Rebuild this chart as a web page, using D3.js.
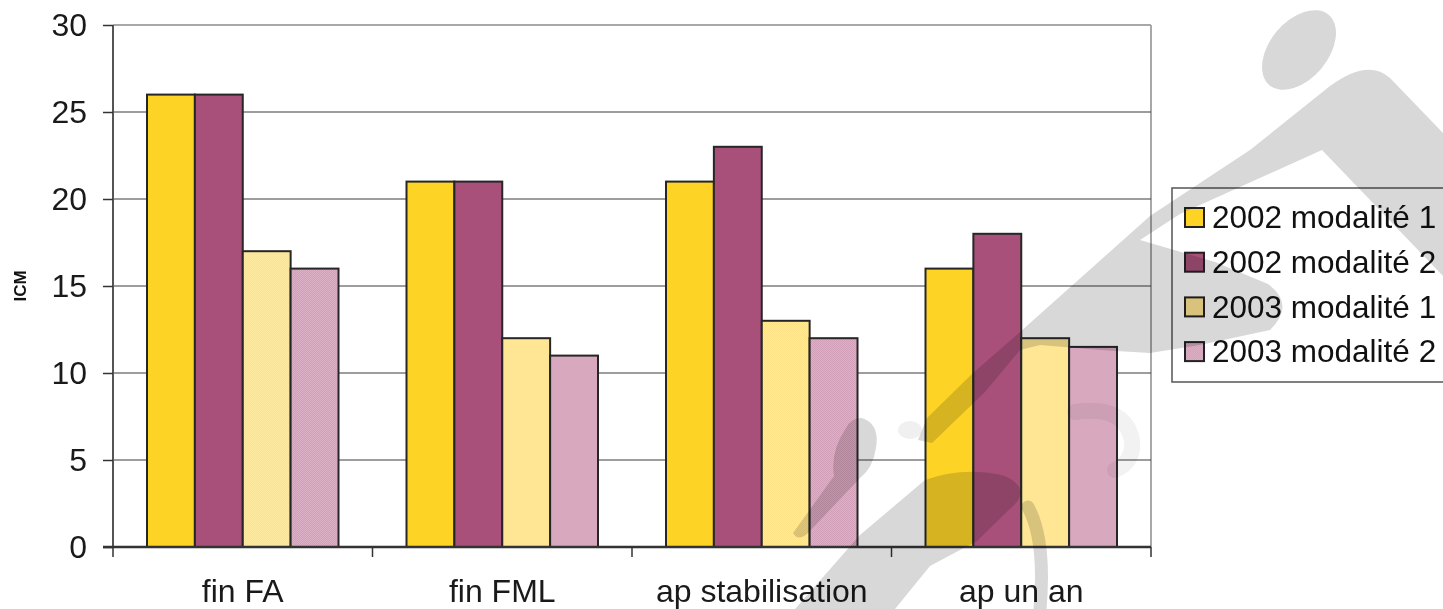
<!DOCTYPE html>
<html>
<head>
<meta charset="utf-8">
<script src="https://cdn.jsdelivr.net/npm/d3@7"></script>
<style>
  html, body { margin: 0; padding: 0; background: #fff; }
  svg { display: block; }
  text { font-family: "Liberation Sans", Arial, sans-serif; }
</style>
</head>
<body>
<svg id="chart" width="1443" height="609"></svg>
<script>
// ---- data ----
const categories = ["fin FA", "fin FML", "ap stabilisation", "ap un an"];
const seriesNames = ["2002 modalité 1", "2002 modalité 2", "2003 modalité 1", "2003 modalité 2"];
const s2002m1 = [26, 21, 21, 16];
const s2002m2 = [26, 21, 23, 18];
const s2003m1 = [17, 12, 13, 12];
const s2003m2 = [16, 11, 12, 11.5];
const yTicks = [0, 5, 10, 15, 20, 25, 30];
const yTitle = "ICM";

const seriesValues = [s2002m1, s2002m2, s2003m1, s2003m2];

// ---- layout ----
const W = 1443, H = 609;
const plot = { left: 113, right: 1151, top: 25, bottom: 547 };

const svg = d3.select("#chart");
svg.append("rect").attr("width", W).attr("height", H).attr("fill", "#fff");

const defs = svg.append("defs");
function dither(id, c1, c2) {
  const p = defs.append("pattern").attr("id", id)
    .attr("width", 2).attr("height", 2).attr("patternUnits", "userSpaceOnUse");
  p.append("rect").attr("width", 2).attr("height", 2).attr("fill", c1);
  p.append("rect").attr("width", 1).attr("height", 1).attr("fill", c2);
  p.append("rect").attr("x", 1).attr("y", 1).attr("width", 1).attr("height", 1).attr("fill", c2);
}
dither("pYellow", "#FFEAA2", "#FFE186");
dither("pPink", "#DDB1C5", "#D29FB8");

const fills = ["#FDD325", "#A8507A", "url(#pYellow)", "url(#pPink)"];

const y = d3.scaleLinear().domain([0, 30]).range([plot.bottom, plot.top]);
const x0 = d3.scaleBand().domain(categories).range([plot.left, plot.right]).padding(0);
const bw = x0.bandwidth();
const x1 = d3.scaleBand().domain(d3.range(seriesNames.length))
  .range([34, bw - 34]).padding(0);

// plot frame (top and right border)
svg.append("line").attr("x1", plot.left).attr("x2", plot.right)
  .attr("y1", plot.top).attr("y2", plot.top)
  .attr("stroke", "#a8a8a8").attr("stroke-width", 2);
svg.append("line").attr("x1", plot.right).attr("x2", plot.right)
  .attr("y1", plot.top).attr("y2", plot.bottom)
  .attr("stroke", "#a8a8a8").attr("stroke-width", 2);

// horizontal gridlines
svg.append("g").selectAll("line")
  .data(yTicks.filter(t => t > 0 && t < 30))
  .join("line")
  .attr("x1", plot.left).attr("x2", plot.right)
  .attr("y1", d => y(d)).attr("y2", d => y(d))
  .attr("stroke", "#3c3c3c").attr("stroke-width", 1.2);

// bars
const groups = svg.append("g").selectAll("g")
  .data(categories)
  .join("g")
  .attr("transform", d => `translate(${x0(d)},0)`);

groups.selectAll("rect")
  .data((c, i) => seriesValues.map((vals, s) => ({ s, v: vals[i] })))
  .join("rect")
  .attr("x", d => x1(d.s))
  .attr("width", x1.bandwidth())
  .attr("y", d => y(d.v))
  .attr("height", d => y(0) - y(d.v))
  .attr("fill", d => fills[d.s])
  .attr("stroke", "#262626")
  .attr("stroke-width", 2);

// y axis
const yAxis = d3.axisLeft(y).tickValues(yTicks).tickSize(10).tickPadding(16);
const gy = svg.append("g").attr("transform", `translate(${plot.left},0)`).call(yAxis);
gy.select(".domain").attr("stroke", "#555").attr("stroke-width", 2)
  .attr("d", `M0,${plot.top}V${plot.bottom + 1}`);
gy.selectAll(".tick line").attr("stroke", "#333").attr("stroke-width", 1.5);
gy.selectAll(".tick text").attr("font-size", 32).attr("fill", "#1a1a1a")
  .attr("font-family", "Liberation Sans, Arial, sans-serif");

// x axis
const xAxis = d3.axisBottom(x0).tickSize(0).tickPadding(0);
const gx = svg.append("g").attr("transform", `translate(0,${plot.bottom})`).call(xAxis);
gx.select(".domain").attr("stroke", "#333").attr("stroke-width", 2.5)
  .attr("d", `M${plot.left - 10},0H${plot.right}`);
gx.selectAll(".tick text").attr("font-size", 32).attr("fill", "#1a1a1a")
  .attr("dy", 0).attr("y", 55)
  .attr("font-family", "Liberation Sans, Arial, sans-serif");
// category separators
gx.append("g").selectAll("line")
  .data(categories.map(c => x0(c)).concat([plot.right]))
  .join("line")
  .attr("x1", d => d).attr("x2", d => d)
  .attr("y1", 0).attr("y2", 10)
  .attr("stroke", "#333").attr("stroke-width", 1.5);

// y title
svg.append("text")
  .attr("transform", "translate(26,286) rotate(-90)")
  .attr("text-anchor", "middle")
  .attr("font-size", 17).attr("font-weight", "bold").attr("fill", "#111")
  .text(yTitle);

// legend
const lg = svg.append("g").attr("transform", "translate(1172,188)");
lg.append("rect").attr("width", 300).attr("height", 194)
  .attr("fill", "#fff").attr("stroke", "#555").attr("stroke-width", 1.5);
const items = lg.selectAll("g").data(seriesNames).join("g")
  .attr("transform", (d, i) => `translate(0,${29 + i * 44.7})`);
items.append("rect").attr("x", 13).attr("y", -9).attr("width", 19).attr("height", 19)
  .attr("fill", (d, i) => fills[i]).attr("stroke", "#222").attr("stroke-width", 2);
items.append("text").attr("x", 40).attr("y", 0).attr("dy", "0.36em")
  .attr("font-size", 31.5).attr("fill", "#111").text(d => d);

// background emblem, printed over the chart in light grey
const grey = "#d8d8d8";
const wm = svg.append("g").attr("fill", grey);
const shape = (el) => el.style("mix-blend-mode", "multiply");
// head
shape(wm.append("ellipse").attr("cx", 1299).attr("cy", 50).attr("rx", 46).attr("ry", 29)
  .attr("transform", "rotate(-50 1299 50)"));
// arm: upper band, right leg and lower strap
shape(wm.append("path").attr("d",
  "M918,440 L927,418 L973,373 L1020,332 L1150,216 L1250,150 L1330,86" +
  " Q1368,58 1390,78 L1443,133 L1443,276 L1322,150 L1180,214 L1140,240" +
  " L1215,262 L1268,284 Q1296,305 1270,330 L1200,345 L1150,353 L1100,350" +
  " L1040,345 L1020,350 L985,392 L932,443 Z"));
// small club
shape(wm.append("path").attr("d",
  "M862,418 Q880,424 876,448 Q873,468 860,478 L808,533 Q798,542 793,533" +
  " L834,476 Q830,452 846,428 Q852,417 862,418 Z"));
// curved band at the bottom
shape(wm.append("path").attr("d",
  "M795,609 L860,535 L925,480 Q965,466 1005,476 Q1030,488 1015,504" +
  " L977,541 L930,566 L895,609 Z"));
// hook stroke
shape(wm.append("path").attr("d", "M1028,507 Q1046,540 1040,609")
  .attr("fill", "none").attr("stroke", grey).attr("stroke-width", 13)
  .attr("stroke-linecap", "round"));
// faint traces
shape(wm.append("path").attr("d", "M1075,412 Q1125,405 1132,440 Q1134,462 1115,470")
  .attr("fill", "none").attr("stroke", "#f2f2f2").attr("stroke-width", 16)
  .attr("stroke-linecap", "round"));
shape(wm.append("ellipse").attr("cx", 910).attr("cy", 430).attr("rx", 12).attr("ry", 9)
  .attr("fill", "#f0f0f0"));
</script>
</body>
</html>
